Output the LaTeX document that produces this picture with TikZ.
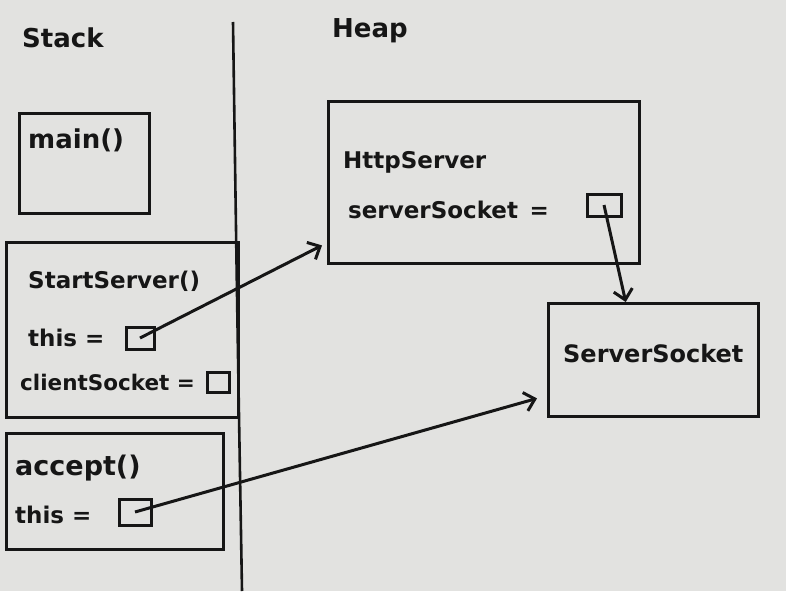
\documentclass[tikz,border=0pt]{standalone}
\usepackage{fontspec}
\setmainfont{DejaVu Sans}
\usetikzlibrary{arrows.meta,positioning}
\definecolor{paper}{RGB}{226,226,224}
\definecolor{ink}{RGB}{22,22,22}

\begin{document}
\begin{tikzpicture}[
		x=1pt, y=-1pt,
		every node/.style={
			font=\fontsize{23}{27}\selectfont\bfseries,
			text=ink,
			inner sep=0pt,
		},
		label/.style={
			anchor=base west,
		},
		frame/.style={
			draw=ink,
			line width=3.4pt,
			anchor=north west,
		},
		slot/.style={
			draw=ink,
			line width=3pt,
			minimum width=28pt,
			minimum height=22pt,
		},
		pointer/.style={
			draw=ink,
			line width=3pt,
			-{Straight Barb[length=10pt,width=19pt,line width=3pt]},
		},
	]
		% paper
		\fill[paper] (0,0) rectangle (786,591);
		\useasboundingbox (0,0) rectangle (786,591);

		% stack / heap divider
		\node[label, font=\fontsize{26}{30}\selectfont\bfseries] (stacktitle) at (22,48) {Stack};
		\node[label, font=\fontsize{26}{30}\selectfont\bfseries] (heaptitle) at (332,38) {Heap};
		\draw[ink, line width=2.6pt] (233,22) .. controls (237,300) .. (242,591);

		% stack frames
		\node[frame, minimum width=130pt, minimum height=100pt] (mainframe) at (18,112) {};
		\node[label, font=\fontsize{26}{30}\selectfont\bfseries] (maintitle) at (28,148) {main()};

		\node[frame, minimum width=232pt, minimum height=175pt] (startframe) at (5,241) {};
		\node[label] (starttitle) at (28,288) {StartServer()};
		\node[label] (startthis) at (28,346) {this =};
		\node[slot] (startslot) at (140,338) {};
		\node[label, font=\fontsize{21.5}{25}\selectfont\bfseries] (startclient) at (20,390) {clientSocket =};
		\node[slot, minimum width=22pt, minimum height=20pt] (clientslot) at (218,382) {};

		\node[frame, minimum width=217pt, minimum height=116pt] (acceptframe) at (5,432) {};
		\node[label, font=\fontsize{27}{31}\selectfont\bfseries] (accepttitle) at (15,475) {accept()};
		\node[label] (acceptthis) at (15,523) {this =};
		\node[slot, minimum width=32pt, minimum height=26pt] (acceptslot) at (135,512) {};

		% heap objects
		\node[frame, minimum width=311pt, minimum height=162pt] (httpframe) at (327,100) {};
		\node[label] (httptitle) at (343,168) {HttpServer};
		\node[label] (httpfield) at (348,218) {serverSocket\enspace=};
		\node[slot, minimum width=34pt, minimum height=22pt] (httpslot) at (604,205) {};

		\node[frame, minimum width=210pt, minimum height=113pt] (sockframe) at (547,302) {};
		\node[label, font=\fontsize{24}{28}\selectfont\bfseries] (socktitle) at (563,362) {ServerSocket};

		% references
		\draw[pointer] (startslot.center) -- ([shift={(-5pt,20pt)}]httpframe.south west);
		\draw[pointer] (acceptslot.center) -- ([shift={(-10pt,20pt)}]sockframe.south west);
		\draw[pointer] (httpslot.center) -- ([xshift=-28pt]sockframe.north);
\end{tikzpicture}
\end{document}
